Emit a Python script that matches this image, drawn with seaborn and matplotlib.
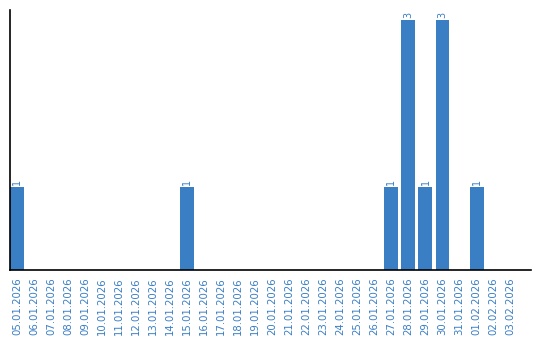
import matplotlib
matplotlib.use("Agg")
import matplotlib.pyplot as plt
import seaborn as sns
import pandas as pd

dates = ["05.01.2026", "06.01.2026", "07.01.2026", "08.01.2026", "09.01.2026",
         "10.01.2026", "11.01.2026", "12.01.2026", "13.01.2026", "14.01.2026",
         "15.01.2026", "16.01.2026", "17.01.2026", "18.01.2026", "19.01.2026",
         "20.01.2026", "21.01.2026", "22.01.2026", "23.01.2026", "24.01.2026",
         "25.01.2026", "26.01.2026", "27.01.2026", "28.01.2026", "29.01.2026",
         "30.01.2026", "31.01.2026", "01.02.2026", "02.02.2026", "03.02.2026"]
counts = [1, 0, 0, 0, 0, 0, 0, 0, 0, 0,
          1, 0, 0, 0, 0, 0, 0, 0, 0, 0,
          0, 0, 1, 3, 1, 3, 0, 1, 0, 0]

sns.set_style("white")
plt.rcParams['font.family'] = ['DejaVu Sans']

blue = "#3a7ec4"
df = pd.DataFrame({"date": dates, "count": counts})

fig = plt.figure(figsize=(5.4, 3.4), dpi=100)
ax = fig.add_axes([10/540, 70/340, 521/540, 260/340])
sns.barplot(data=df, x="date", y="count", color=blue, saturation=1, width=0.82,
            linewidth=0, edgecolor="none", ax=ax)

for c in ax.containers:
    labels = [str(v) if v > 0 else "" for v in counts]
    ax.bar_label(c, labels=labels, rotation=90, padding=1.5, color=blue, fontsize=7)

ax.set_xlim(-0.41, 30.2)
ax.set_ylim(0, 3.12)
ax.set_xlabel("")
ax.set_ylabel("")
ax.set_yticks([])
ax.tick_params(axis="x", length=0, pad=5, labelsize=7.3, labelcolor=blue, rotation=90)
for s in ["top", "right"]:
    ax.spines[s].set_visible(False)
for s in ["left", "bottom"]:
    ax.spines[s].set_color("black")
    ax.spines[s].set_linewidth(1.2)

fig.savefig("out.png", dpi=100)
